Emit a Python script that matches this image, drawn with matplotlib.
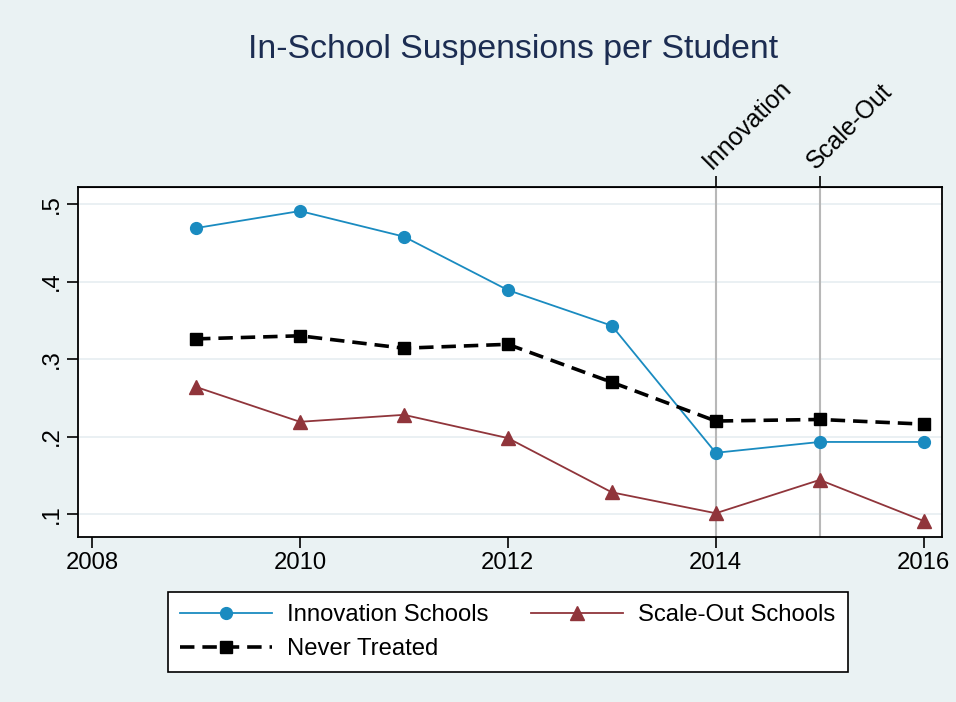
import matplotlib
matplotlib.use("Agg")
import matplotlib.pyplot as plt

years = [2009, 2010, 2011, 2012, 2013, 2014, 2015, 2016]
innovation = [0.469, 0.491, 0.458, 0.389, 0.343, 0.179, 0.193, 0.193]
scale_out = [0.264, 0.219, 0.228, 0.198, 0.128, 0.101, 0.144, 0.091]
never_treated = [0.326, 0.330, 0.314, 0.319, 0.270, 0.220, 0.222, 0.216]

event_years = [2014, 2015]
event_labels = ["Innovation", "Scale-Out"]
xticks = [2008, 2010, 2012, 2014, 2016]
yticks = [0.1, 0.2, 0.3, 0.4, 0.5]
ytick_labels = [".1", ".2", ".3", ".4", ".5"]

plt.rcParams['font.family'] = ['Liberation Sans', 'DejaVu Sans']

bg = "#eaf2f3"
fs = 17.2
fig = plt.figure(figsize=(9.56, 7.02), dpi=100, facecolor=bg)
ax = fig.add_axes([0.0816, 0.235, 0.9034, 0.4986])
ax.set_facecolor("white")

for yv in yticks:
    ax.axhline(yv, color="#e6eef1", lw=1.2, zorder=0)
for xv in event_years:
    ax.axvline(xv, color="#b8b8b8", lw=1.5, zorder=1)

l1, = ax.plot(years, innovation, color="#1a8bc0", lw=1.3, marker="o", ms=8.5,
              label="Innovation Schools", zorder=3)
l2, = ax.plot(years, scale_out, color="#90353b", lw=1.3, marker="^", ms=9.5,
              label="Scale-Out Schools", zorder=3)
l3, = ax.plot(years, never_treated, color="black", lw=2.6, ls=(0, (4, 2.2)),
              marker="s", ms=8.5, label="Never Treated", zorder=4)

ax.set_xlim(2007.865, 2016.173)
ax.set_ylim(0.0703, 0.522)
ax.set_xticks(xticks)
ax.set_xticklabels([str(x) for x in xticks], fontsize=fs)
ax.set_yticks(yticks)
ax.set_yticklabels(ytick_labels, fontsize=fs, rotation=90, va="center")
ax.tick_params(direction="out", length=8, width=1.2, pad=3)
for s in ax.spines.values():
    s.set_linewidth(1.3)

top = ax.secondary_xaxis("top")
top.set_xticks(event_years)
top.set_xticklabels(event_labels, fontsize=17.8, rotation=45, ha="left",
                    rotation_mode="anchor")
top.tick_params(direction="out", length=8, width=1.2, pad=2)

fig.text(0.537, 0.929, "In-School Suspensions per Student", fontsize=24.4,
         color="#1c2d52", ha="center", va="center")

leg = fig.legend([l1, l3, l2],
                 ["Innovation Schools", "Never Treated", "Scale-Out Schools"],
                 loc="upper left", bbox_to_anchor=(0.1757, 0.1567),
                 ncol=2, fontsize=fs, handlelength=3.85, handletextpad=0.63,
                 columnspacing=1.8, borderpad=0.5, labelspacing=0.5,
                 frameon=True, fancybox=False, edgecolor="black",
                 facecolor="white", framealpha=1, borderaxespad=0)
leg.get_frame().set_linewidth(1.2)

fig.savefig("out.png", dpi=100, facecolor=bg)
